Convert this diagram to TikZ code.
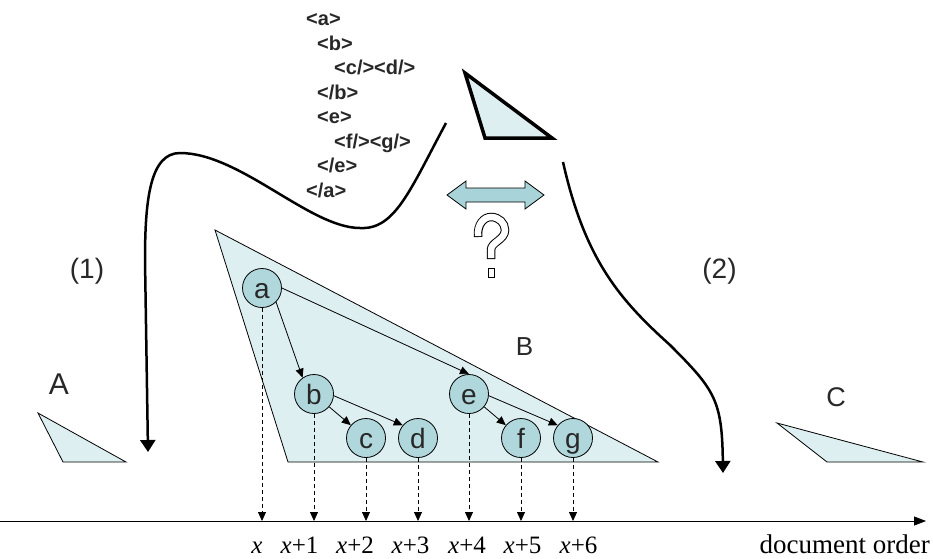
\documentclass[tikz,border=0pt]{standalone}
\usepackage{fontspec}
\setmainfont{Liberation Serif}
\setsansfont{Liberation Sans}
\usetikzlibrary{arrows.meta,positioning,calc}
\definecolor{cpale}{RGB}{221,239,241}
\definecolor{cnode}{RGB}{176,216,220}
\definecolor{carrow}{RGB}{168,211,216}
\definecolor{ctext}{RGB}{40,40,40}
\newcommand{\fsz}[1]{\fontsize{#1}{#1}\selectfont}
\newcommand{\xv}{\textit{x}}

\begin{document}
\begin{tikzpicture}[x=1pt,y=-1pt,
    tnode/.style={circle,draw,fill=cnode,minimum size=39pt,inner sep=0pt,
      text height=21pt,text depth=0pt,font=\sffamily\fsz{28},text=ctext,line width=0.8pt},
    tedge/.style={-{Triangle[length=9pt,width=8pt]},line width=0.8pt},
    drop/.style={-{Triangle[length=9pt,width=8pt]},line width=0.8pt,dash pattern=on 4pt off 3pt},
    bigarr/.style={-{Triangle[length=12pt,width=15pt]},line width=2.5pt},
    tag/.style={anchor=base west,font=\sffamily\bfseries\fsz{20},text=ctext,inner sep=0pt},
    lbl/.style={font=\sffamily\fsz{27},text=ctext,inner sep=0pt},
    ordlbl/.style={anchor=base,font=\fsz{25},inner sep=0pt}]
  \useasboundingbox (0,0) rectangle (933,558);

  % the XML source
  \node[tag] (t1) at (306,25.5) {<a>};
  \node[tag] (t2) at (317,50) {<b>};
  \node[tag] (t3) at (334,74.5) {<c/><d/>};
  \node[tag] (t4) at (317,99) {</b>};
  \node[tag] (t5) at (317,123.5) {<e>};
  \node[tag] (t6) at (334,148) {<f/><g/>};
  \node[tag] (t7) at (317,172.5) {</e>};
  \node[tag] (t8) at (306,197) {</a>};

  % fragments
  \draw[fill=cpale,line width=3.5pt] (465,73) -- (485,138) -- (552,138) -- cycle;
  \draw[fill=cpale,line width=0.8pt] (215,230) -- (288,462) -- (658,462) -- cycle;
  \draw[fill=cpale,line width=0.8pt] (38,413) -- (63,462) -- (126,462) -- cycle;
  \draw[fill=cpale,line width=0.8pt] (777,423) -- (827,462) -- (923,462) -- cycle;

  \node[lbl,font=\sffamily\fsz{30}] (lA) at (59,384) {A};
  \node[lbl,font=\sffamily\fsz{26}] (lB) at (524.5,347) {B};
  \node[lbl] (lC) at (836,397) {C};
  \node[lbl,font=\sffamily\fsz{28}] (l1) at (87,271) {(1)};
  \node[lbl,font=\sffamily\fsz{28}] (l2) at (719.5,271) {(2)};

  % double arrow and question mark
  \draw[fill=carrow,line width=0.8pt] (447,195) -- (466,181) -- (466,188) -- (525,188)
    -- (525,181) -- (544,195) -- (525,209) -- (525,202) -- (466,202) -- (466,209) -- cycle;
  \draw[line width=8.5pt,shorten <=-1pt,shorten >=-1pt]
    (478,236) .. controls (477,224) and (484,217) .. (491,217)
    .. controls (499,217) and (505,223) .. (505,230)
    .. controls (505,240) and (491,242) .. (491,250) -- (491,258);
  \draw[line width=6.5pt,white]
    (478,236) .. controls (477,224) and (484,217) .. (491,217)
    .. controls (499,217) and (505,223) .. (505,230)
    .. controls (505,240) and (491,242) .. (491,250) -- (491,258);
  \draw[fill=white,line width=0.8pt] (488,268) rectangle (494,277);

  % the tree
  \node[tnode] (a) at (262,288) {a};
  \node[tnode] (b) at (314,394) {b};
  \node[tnode] (c) at (366,438) {c};
  \node[tnode] (d) at (418,438) {d};
  \node[tnode] (e) at (469,394) {e};
  \node[tnode] (f) at (521,438) {f};
  \node[tnode] (g) at (573,438) {g};

  \draw[tedge] (a.-45) -- (b.125);
  \draw[tedge] (a.east) -- (e.north);
  \draw[tedge] (b) -- (c);
  \draw[tedge] (b.-5) -- (d.140);
  \draw[tedge] (e) -- (f);
  \draw[tedge] (e.-5) -- (g.140);

  % document order axis
  \coordinate (o) at (0,521);
  \coordinate (oend) at (926,521);
  \draw[-{Triangle[length=12pt,width=9pt]},line width=0.8pt] (o) -- (oend);
  \foreach \n in {a,b,c,d,e,f,g}
    \draw[drop] (\n.south) -- (\n.south |- o);

  \node[ordlbl] (p0) at (257,553) {\xv};
  \node[ordlbl] (p1) at (299.5,553) {\xv+1};
  \node[ordlbl] (p2) at (355,553) {\xv+2};
  \node[ordlbl] (p3) at (410.5,553) {\xv+3};
  \node[ordlbl] (p4) at (467,553) {\xv+4};
  \node[ordlbl] (p5) at (522.5,553) {\xv+5};
  \node[ordlbl] (p6) at (578.5,553) {\xv+6};
  \node[anchor=base east,font=\fsz{27},inner sep=0pt] (ord) at (930,553.5) {document order};

  % the two mappings
  \coordinate (m1s) at (446,123);
  \coordinate (m1e) at (148,452);
  \coordinate (m2s) at (563,162);
  \coordinate (m2e) at (723,473);
  \draw[bigarr] (m1s) .. controls (410,190) and (395,230) .. (360,228)
    .. controls (310,228) and (240,153) .. (180,153)
    .. controls (150,153) and (145,200) .. (145,260) -- (m1e);
  \draw[bigarr] (m2s) .. controls (585,260) and (620,300) .. (670,345)
    .. controls (715,390) and (722,400) .. (m2e);
\end{tikzpicture}
\end{document}
